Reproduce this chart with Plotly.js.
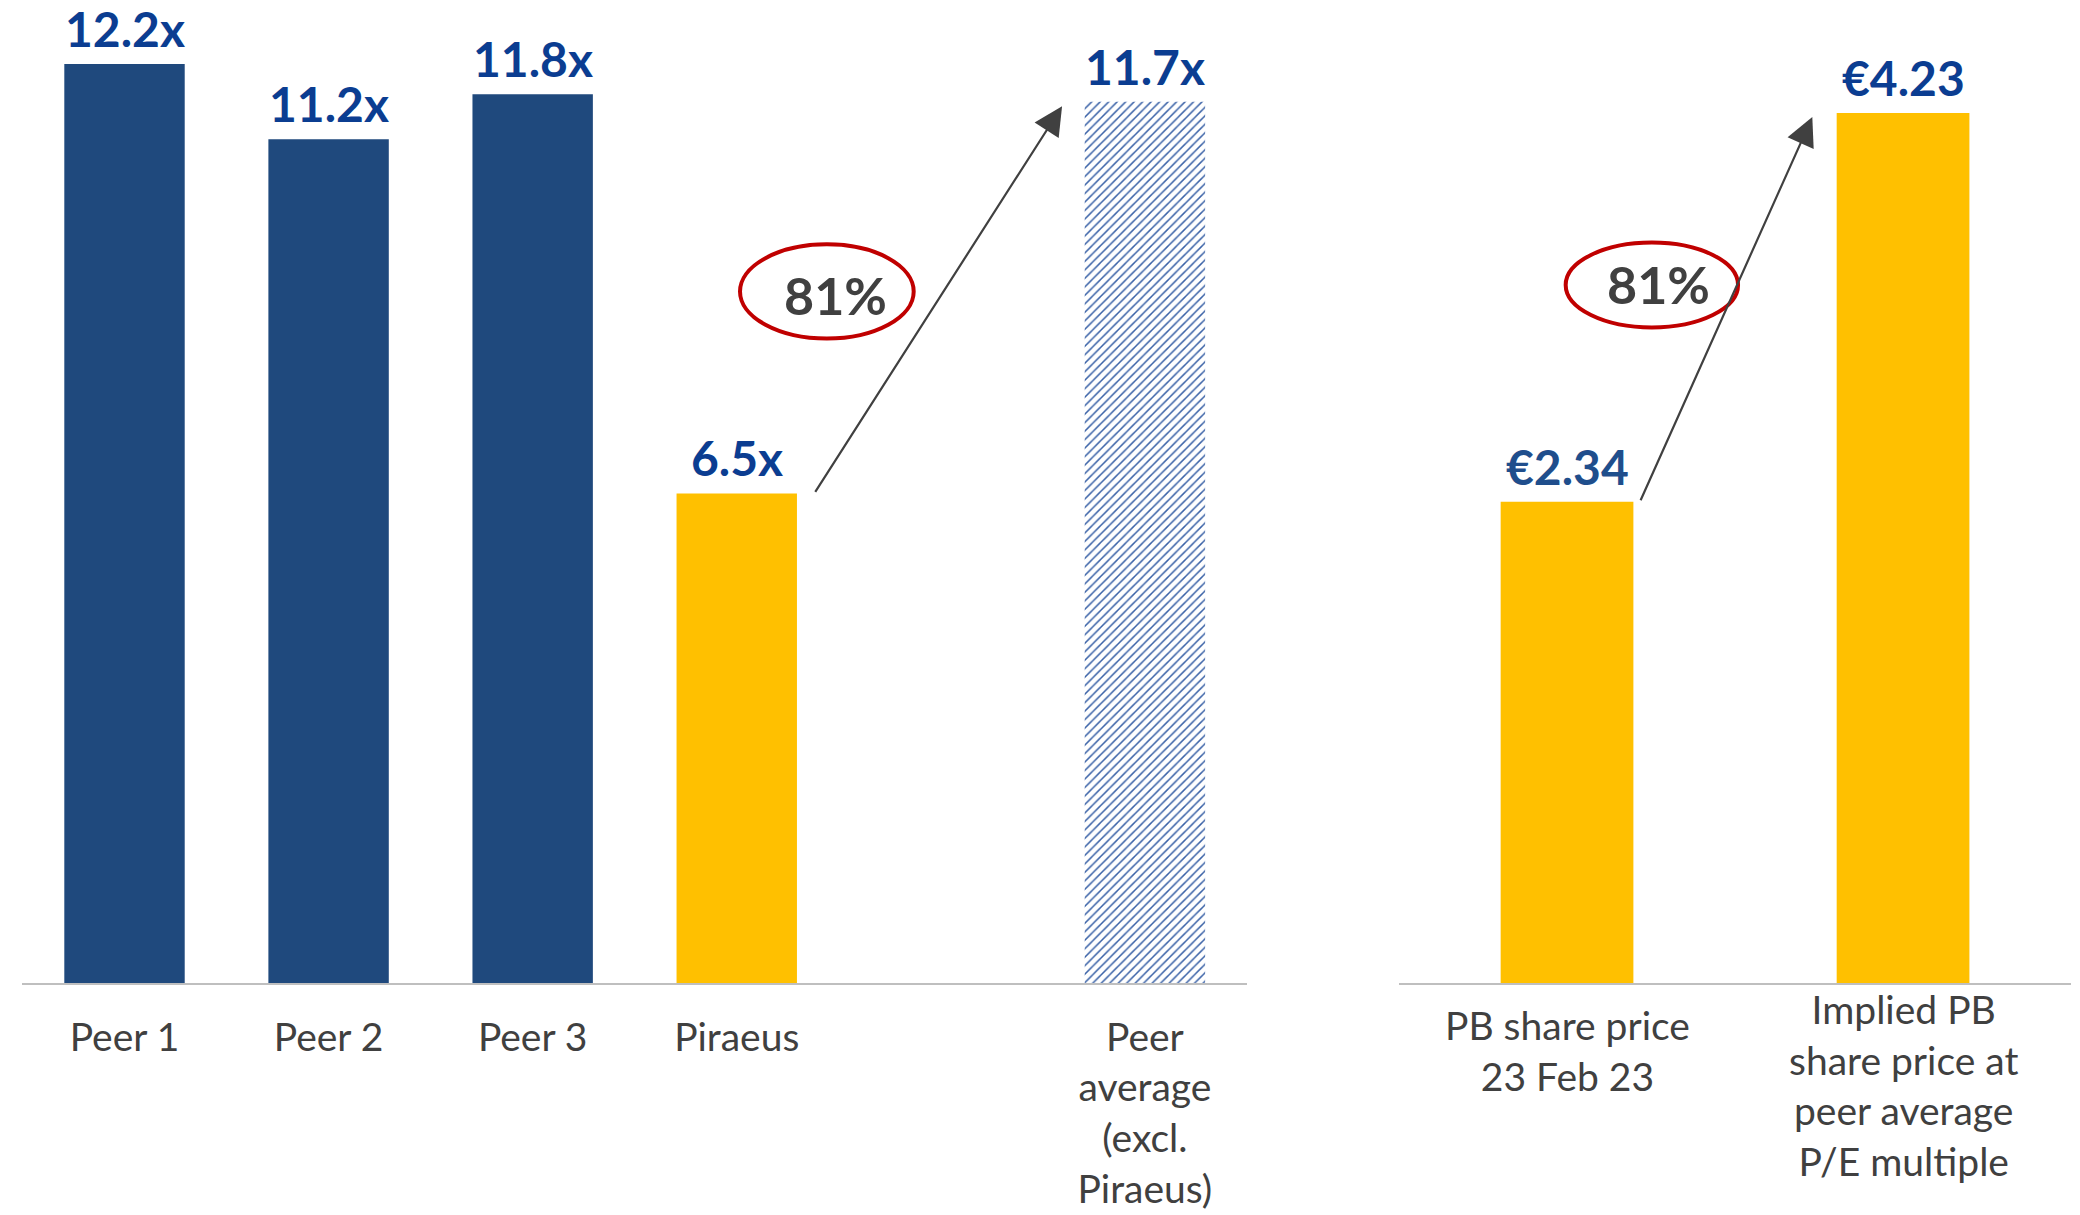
<!DOCTYPE html>
<html>
<head>
<meta charset="utf-8">
<script src="https://cdn.plot.ly/plotly-3.0.1.min.js"></script>
<style>
  html, body { margin: 0; padding: 0; background: #fff; }
  #chart { width: 2080px; height: 1215px; }
</style>
</head>
<body>
<div id="chart"></div>
<script>
// left panel: P/E multiples
var peerCats = ["Peer 1", "Peer 2", "Peer 3", "Piraeus", "Peer<br>average<br>(excl.<br>Piraeus)"];
var peerValues = [12.2, 11.2, 11.8, 6.5, 11.7];
var peerLabels = ["12.2x", "11.2x", "11.8x", "6.5x", "11.7x"];
var peerColors = ["#1F497D", "#1F497D", "#1F497D", "#FFC000", "#3A62A7"];
var peerPatterns = ["", "", "", "", "/"];
var spacer = " ";

// right panel: share price
var priceCats = ["PB share price<br>23 Feb 23", "Implied PB<br>share price at<br>peer average<br>P/E multiple"];
var priceValues = [2.34, 4.23];
var priceLabels = ["€2.34", "€4.23"];
var priceColors = ["#FFC000", "#FFC000"];
var upsideLabel = "81%";

var labelBlue = "#0B3D91";
var greyText = "#404040";

var leftOrder = peerCats.slice(0, 4).concat([spacer, peerCats[4]]);

var traces = [
  {
    type: "bar",
    x: peerCats,
    y: peerValues,
    width: 0.59,
    marker: {
      color: peerColors,
      line: { width: 0 },
      pattern: { shape: peerPatterns, bgcolor: "#FFFFFF", size: 6, solidity: 0.25 }
    },
    hoverinfo: "skip",
    xaxis: "x", yaxis: "y"
  },
  {
    type: "bar",
    x: priceCats,
    y: priceValues,
    width: 0.395,
    marker: { color: priceColors, line: { width: 0 } },
    hoverinfo: "skip",
    xaxis: "x2", yaxis: "y2"
  }
];

var tickFont = { family: "Lato", size: 39, color: greyText };
var valueFont = { family: "Lato", size: 48, weight: "bold", color: labelBlue };

var annotations = [];

// value labels above bars
peerCats.forEach(function (c, i) {
  annotations.push({
    xref: "x", yref: "y", x: c, y: peerValues[i], yanchor: "bottom", yshift: 5,
    text: peerLabels[i], showarrow: false, font: valueFont
  });
});
priceCats.forEach(function (c, i) {
  annotations.push({
    xref: "x2", yref: "y2", x: c, y: priceValues[i], yanchor: "bottom", yshift: 5,
    text: priceLabels[i], showarrow: false,
    font: Object.assign({}, valueFont, { color: i === 0 ? "#1F4E8C" : labelBlue })
  });
});

// arrows
annotations.push({
  xref: "x", yref: "y", axref: "x", ayref: "y",
  x: 4.594, y: peerValues[4] - 0.06,
  ax: 3.38, ay: peerValues[3],
  text: "", showarrow: true, arrowhead: 2, arrowsize: 2.6, arrowwidth: 2.2,
  arrowcolor: "#404040", standoff: 0, startstandoff: 0
});
annotations.push({
  xref: "x2", yref: "y2", axref: "x2", ayref: "y2",
  x: 0.73, y: priceValues[1] - 0.02,
  ax: 0.217, ay: priceValues[0],
  text: "", showarrow: true, arrowhead: 2, arrowsize: 2.6, arrowwidth: 2.2,
  arrowcolor: "#404040", standoff: 0, startstandoff: 0
});

// upside labels
annotations.push({
  xref: "x", yref: "y", x: 3.484, y: 9.14, text: upsideLabel, showarrow: false,
  font: { family: "Lato", size: 52, weight: "bold", color: greyText }
});
annotations.push({
  xref: "x2", yref: "y2", x: 0.272, y: 3.40, text: upsideLabel, showarrow: false,
  font: { family: "Lato", size: 52, weight: "bold", color: greyText }
});

// right category labels
annotations.push({
  xref: "x2", yref: "paper", x: priceCats[0], y: 0.1768, yanchor: "top",
  text: priceCats[0], showarrow: false, font: tickFont
});
annotations.push({
  xref: "x2", yref: "paper", x: priceCats[1], y: 0.1898, yanchor: "top",
  text: priceCats[1], showarrow: false, font: tickFont
});

var shapes = [
  { type: "circle", xref: "x", yref: "y", x0: 3.016, x1: 3.867, y0: 8.556, y1: 9.806,
    line: { color: "#C00000", width: 4 } },
  { type: "circle", xref: "x2", yref: "y2", x0: -0.004, x1: 0.509, y0: 3.187, y1: 3.6,
    line: { color: "#C00000", width: 4 } }
];

var layout = {
  width: 2080,
  height: 1215,
  margin: { l: 0, r: 0, t: 0, b: 0 },
  paper_bgcolor: "#FFFFFF",
  plot_bgcolor: "#FFFFFF",
  showlegend: false,
  xaxis: {
    domain: [0.0108, 0.5995],
    type: "category",
    categoryorder: "array",
    categoryarray: leftOrder,
    range: [-0.5, 5.5],
    showline: true, linecolor: "#BFBFBF", linewidth: 2,
    ticks: "", showgrid: false, zeroline: false,
    tickfont: tickFont,
    ticklabelstandoff: 19,
    anchor: "y"
  },
  yaxis: { domain: [0.19095, 1], range: [0, 13.05], visible: false, anchor: "x" },
  xaxis2: {
    domain: [0.6726, 0.9957],
    type: "category",
    categoryorder: "array",
    categoryarray: priceCats,
    range: [-0.5, 1.5],
    showline: true, linecolor: "#BFBFBF", linewidth: 2,
    ticks: "", showgrid: false, zeroline: false,
    showticklabels: false,
    anchor: "y2"
  },
  yaxis2: { domain: [0.19095, 1], range: [0, 4.779], visible: false, anchor: "x2" },
  annotations: annotations,
  shapes: shapes
};

Plotly.newPlot("chart", traces, layout, { displayModeBar: false, staticPlot: true });
</script>
</body>
</html>
